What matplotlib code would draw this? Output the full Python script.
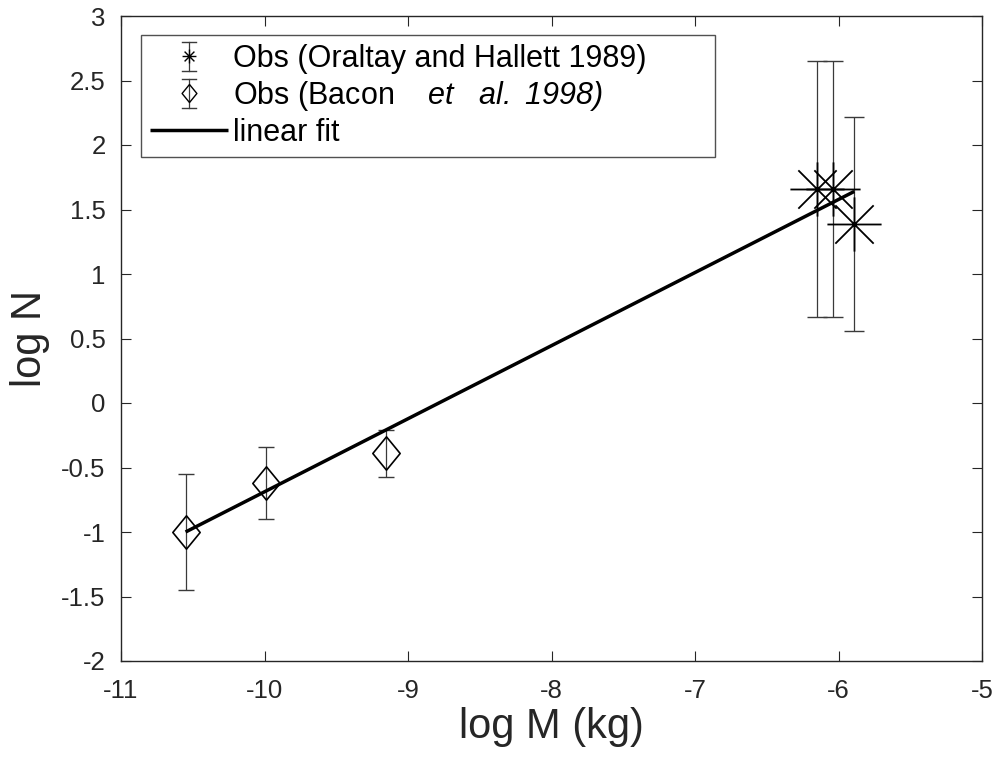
import matplotlib
matplotlib.use("Agg")
import matplotlib.pyplot as plt
import matplotlib.lines as mlines
from matplotlib.path import Path
from matplotlib import font_manager
from matplotlib.legend_handler import HandlerBase

# ---- data ----
oral_x = [-6.15, -6.04, -5.89]
oral_y = [1.66, 1.66, 1.39]
oral_err = [0.99, 0.99, 0.83]

bacon_x = [-10.55, -9.99, -9.15]
bacon_y = [-1.00, -0.62, -0.39]
bacon_err = [0.45, 0.28, 0.18]

fit_x = [-10.55, -5.89]
fit_y = [-1.00, 1.64]

xticks = [-11, -10, -9, -8, -7, -6, -5]
yticks = [-2, -1.5, -1, -0.5, 0, 0.5, 1, 1.5, 2, 2.5, 3]
ytick_labels = ['-2', '-1.5', '-1', '-0.5', '0', '0.5', '1', '1.5', '2', '2.5', '3']

names = {f.name for f in font_manager.fontManager.ttflist}
fam = 'Liberation Sans' if 'Liberation Sans' in names else 'DejaVu Sans'
plt.rcParams['font.family'] = [fam, 'DejaVu Sans']
plt.rcParams['mathtext.fontset'] = 'custom'
plt.rcParams['mathtext.rm'] = fam + ':italic'
plt.rcParams['mathtext.it'] = fam + ':italic'

# markers
s = 0.7071
star = Path([(-1, 0), (1, 0), (0, -1), (0, 1), (-s, -s), (s, s), (-s, s), (s, -s)],
            [Path.MOVETO, Path.LINETO] * 4)
diamond = Path([(0, 1), (0.82, 0), (0, -1), (-0.82, 0), (0, 1)],
               [Path.MOVETO, Path.LINETO, Path.LINETO, Path.LINETO, Path.CLOSEPOLY])

fig = plt.figure(figsize=(10.01, 7.60), dpi=100)
ax = fig.add_axes([121/1001, 1-661/760, (982-121)/1001, (661-16)/760])

axc = '#262626'
ecol = '#3a3a3a'
ax.errorbar(oral_x, oral_y, yerr=oral_err, fmt='none', ecolor=ecol,
            elinewidth=0.9, capsize=7, capthick=1.0)
ax.plot(oral_x, oral_y, linestyle='none', marker=star, markersize=39,
        markerfacecolor='none', markeredgecolor='black', markeredgewidth=1.3)
ax.errorbar(bacon_x, bacon_y, yerr=bacon_err, fmt='none', ecolor=ecol,
            elinewidth=0.9, capsize=5.5, capthick=1.0)
ax.plot(bacon_x, bacon_y, linestyle='none', marker=diamond, markersize=24,
        markerfacecolor='none', markeredgecolor='black', markeredgewidth=1.2)
fitline, = ax.plot(fit_x, fit_y, color='black', linewidth=2.5, solid_capstyle='butt')

p1 = mlines.Line2D([], [], linestyle='none')
p2 = mlines.Line2D([], [], linestyle='none')


class HandlerEB(HandlerBase):
    def __init__(self, mk, ms):
        super().__init__()
        self.mk = mk
        self.ms = ms

    def create_artists(self, legend, orig_handle, xdescent, ydescent, width, height,
                       fontsize, trans):
        cx = width * 0.5 - xdescent
        cy = height / 2 - ydescent
        hh = 10.5
        cw = 5
        arts = [mlines.Line2D([cx, cx], [cy - hh, cy + hh], color=ecol, lw=0.9, transform=trans)]
        for yy in (cy - hh, cy + hh):
            arts.append(mlines.Line2D([cx - cw, cx + cw], [yy, yy], color=ecol, lw=1.0, transform=trans))
        arts.append(mlines.Line2D([cx], [cy], linestyle='none', marker=self.mk, markersize=self.ms,
                                  markerfacecolor='none', markeredgecolor='black',
                                  markeredgewidth=1.0, transform=trans))
        return arts


leg = ax.legend([p1, p2, fitline],
                ['Obs (Oraltay and Hallett 1989)       ',
                 'Obs (Bacon    $et$   $al.\\ 1998)$',
                 'linear fit'],
                handler_map={p1: HandlerEB(star, 10), p2: HandlerEB(diamond, 13)},
                loc='upper left', bbox_to_anchor=((141-121)/861, 1-(35-16)/645),
                fontsize=22, frameon=True, fancybox=False, edgecolor=axc,
                handlelength=2.55, handletextpad=0.15, labelspacing=0.16,
                borderpad=0.3, borderaxespad=0)
leg.get_frame().set_linewidth(1.0)

ax.set_xlim(-11, -5)
ax.set_ylim(-2, 3)
ax.set_xticks(xticks)
ax.set_xticklabels([str(t) for t in xticks])
ax.set_yticks(yticks)
ax.set_yticklabels(ytick_labels)
ax.tick_params(direction='in', length=7, width=0.8, colors=axc, labelsize=18.5,
               top=True, right=True)
ax.tick_params(axis='y', pad=11)
ax.tick_params(axis='x', pad=13)
for sp in ax.spines.values():
    sp.set_color(axc)
    sp.set_linewidth(1.0)
ax.set_xlabel('log M (kg)', fontsize=30, color=axc, labelpad=3)
ax.set_ylabel('log N', fontsize=30, color=axc, labelpad=8)

fig.savefig('out.png', dpi=100)
